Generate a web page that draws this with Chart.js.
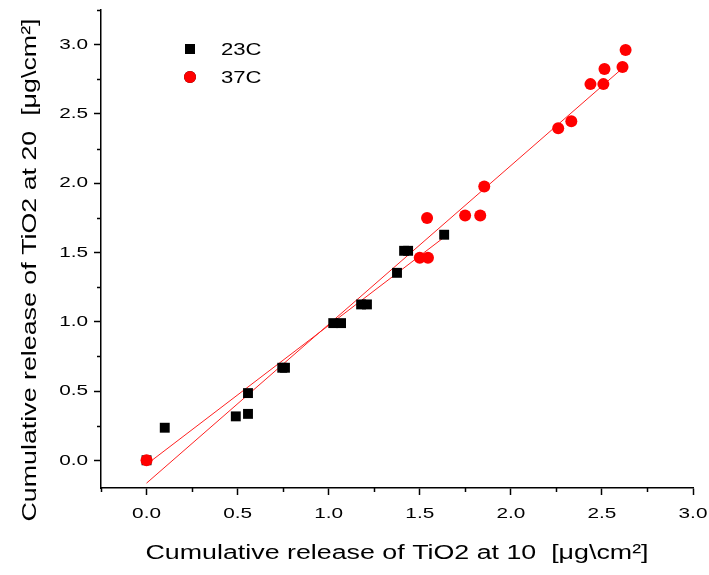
<!DOCTYPE html>
<html>
<head>
<meta charset="utf-8">
<script src="https://cdn.jsdelivr.net/npm/chart.js@4.4.0/dist/chart.umd.min.js"></script>
<style>
html,body{margin:0;padding:0;background:#ffffff;}
#wrap{width:709px;height:575px;}
</style>
</head>
<body>
<div id="wrap"><canvas id="c" width="709" height="575"></canvas></div>
<script>
// ---- data ----
const seriesLabels = ['23C', '37C'];
const x23 = [0, 0.10, 0.49, 0.557, 0.557, 0.745, 0.76, 1.025, 1.068, 1.178, 1.21, 1.375, 1.414, 1.436, 1.634];
const y23 = [0, 0.235, 0.317, 0.335, 0.485, 0.668, 0.668, 0.99, 0.99, 1.125, 1.125, 1.353, 1.512, 1.512, 1.628];
const x37 = [0, 1.50, 1.545, 1.54, 1.749, 1.832, 1.854, 2.26, 2.332, 2.437, 2.508, 2.514, 2.613, 2.63];
const y37 = [0, 1.462, 1.462, 1.748, 1.766, 1.766, 1.976, 2.396, 2.447, 2.715, 2.715, 2.824, 2.838, 2.961];
const fit23X = [0, 1.634];
const fit23Y = [-0.03, 1.61];
const fit37X = [0, 2.63];
const fit37Y = [-0.165, 2.849];
const xTickValues = [0, 0.5, 1.0, 1.5, 2.0, 2.5, 3.0];
const yTickValues = [0, 0.5, 1.0, 1.5, 2.0, 2.5, 3.0];
const xTitle = 'Cumulative release of TiO2 at 10  [\u03BCg\\cm\u00B2]';
const yTitle = 'Cumulative release of TiO2 at 20  [\u03BCg\\cm\u00B2]';

// ---- wide text rendering (reference uses horizontally expanded glyphs) ----
const TEXT_STRETCH = 1.34;
(function(){
  const P = CanvasRenderingContext2D.prototype;
  const origFill = P.fillText, origMeasure = P.measureText;
  P.fillText = function(t, x, y){
    this.save(); this.translate(x, y); this.scale(TEXT_STRETCH, 1);
    origFill.call(this, t, 0, 0); this.restore();
  };
  P.measureText = function(t){
    const m = origMeasure.call(this, t);
    return {
      width: m.width * TEXT_STRETCH,
      actualBoundingBoxAscent: m.actualBoundingBoxAscent,
      actualBoundingBoxDescent: m.actualBoundingBoxDescent,
      actualBoundingBoxLeft: m.actualBoundingBoxLeft * TEXT_STRETCH,
      actualBoundingBoxRight: m.actualBoundingBoxRight * TEXT_STRETCH
    };
  };
})();

const FONT = "'Liberation Sans', Arial, Helvetica, sans-serif";
const toPts = (xs, ys) => xs.map((x, i) => ({x: x, y: ys[i]}));

const minorTicks = {
  id: 'minorTicks',
  afterDraw(chart) {
    const ctx = chart.ctx;
    ctx.save();
    ctx.strokeStyle = '#000';
    ctx.lineWidth = 1.5;
    const xs = chart.scales.x, ys = chart.scales.y;
    for (let v = -0.25; v <= 3.0001; v += 0.5) {
      const px = Math.round(xs.getPixelForValue(v)) + 0.5;
      ctx.beginPath(); ctx.moveTo(px, xs.top); ctx.lineTo(px, xs.top + 4); ctx.stroke();
    }
    for (let v = 0.25; v <= 3.2501; v += 0.5) {
      const py = Math.round(ys.getPixelForValue(v)) + 0.5;
      ctx.beginPath(); ctx.moveTo(ys.right, py); ctx.lineTo(ys.right - 4, py); ctx.stroke();
    }
    ctx.restore();
  }
};

// y-axis title, drawn beside the y scale (slightly below centre, as in the reference)
const yAxisTitle = {
  id: 'yAxisTitle',
  afterDraw(chart) {
    const ctx = chart.ctx;
    const ys = chart.scales.y;
    ctx.save();
    ctx.translate(30, 270);
    ctx.rotate(-Math.PI / 2);
    ctx.fillStyle = '#000';
    ctx.font = "20px " + FONT;
    ctx.textAlign = 'center';
    ctx.textBaseline = 'middle';
    ctx.fillText(yTitle, 0, 0);
    ctx.restore();
  }
};

const customLegend = {
  id: 'customLegend',
  afterDraw(chart) {
    const ctx = chart.ctx;
    const items = [0, 1];
    ctx.save();
    items.forEach((di, i) => {
      const ds = chart.data.datasets[di];
      const cy = 49 + i * 28;
      Chart.helpers.drawPoint(ctx, {
        pointStyle: ds.pointStyle, radius: ds.pointRadius, rotation: 0, borderWidth: 0
      }, 190, cy);
      ctx.fillStyle = ds.backgroundColor;
      ctx.fill();
      ctx.fillStyle = '#000';
      ctx.font = "16.5px " + FONT;
      ctx.textAlign = 'left';
      ctx.textBaseline = 'middle';
      ctx.fillText(ds.label, 221, cy + 1);
    });
    ctx.restore();
  }
};

new Chart(document.getElementById('c'), {
  type: 'scatter',
  data: {
    datasets: [
      { label: seriesLabels[0], data: toPts(x23, y23), pointStyle: 'rect', pointRadius: 7,
        backgroundColor: '#000000', borderWidth: 0, order: 1 },
      { label: seriesLabels[1], data: toPts(x37, y37), pointStyle: 'circle', pointRadius: 6,
        backgroundColor: '#ff0000', borderWidth: 0, order: 0 },
      { label: 'fit 23C', data: toPts(fit23X, fit23Y), showLine: true, pointRadius: 0,
        borderColor: '#ff2020', borderWidth: 1, order: 2 },
      { label: 'fit 37C', data: toPts(fit37X, fit37Y), showLine: true, pointRadius: 0,
        borderColor: '#ff2020', borderWidth: 1, order: 2 }
    ]
  },
  options: {
    responsive: false,
    animation: false,
    layout: { padding: { top: 10, right: 16, left: 0, bottom: 0 } },
    plugins: { legend: { display: false }, tooltip: { enabled: false } },
    scales: {
      x: {
        type: 'linear', min: -0.25, max: 3.0,
        afterFit(s) { s.height = 87; s.paddingLeft = 0; s.paddingRight = 0; },
        afterBuildTicks(s) { s.ticks = xTickValues.map(v => ({value: v})); },
        border: { display: true, color: '#000', width: 1.5 },
        grid: { drawOnChartArea: false, drawTicks: true, tickLength: 7, tickColor: '#000', tickWidth: 1.5 },
        ticks: { color: '#000', font: { family: FONT, size: 15.5 }, padding: 9,
                 autoSkip: false, maxRotation: 0, callback: v => Number(v).toFixed(1) },
        title: { display: true, text: xTitle, color: '#000',
                 font: { family: FONT, size: 20 }, padding: { top: 0, bottom: 10 } }
      },
      y: {
        type: 'linear', min: -0.2, max: 3.25,
        afterFit(s) { s.width = 101; s.paddingTop = 0; s.paddingBottom = 0; },
        afterBuildTicks(s) { s.ticks = yTickValues.map(v => ({value: v})); },
        border: { display: true, color: '#000', width: 1.5 },
        grid: { drawOnChartArea: false, drawTicks: true, tickLength: 7, tickColor: '#000', tickWidth: 1.5 },
        ticks: { color: '#000', font: { family: FONT, size: 15.5 }, padding: 6,
                 autoSkip: false, callback: v => Number(v).toFixed(1) },
        title: { display: false }
      }
    }
  },
  plugins: [minorTicks, customLegend, yAxisTitle]
});
</script>
</body>
</html>
